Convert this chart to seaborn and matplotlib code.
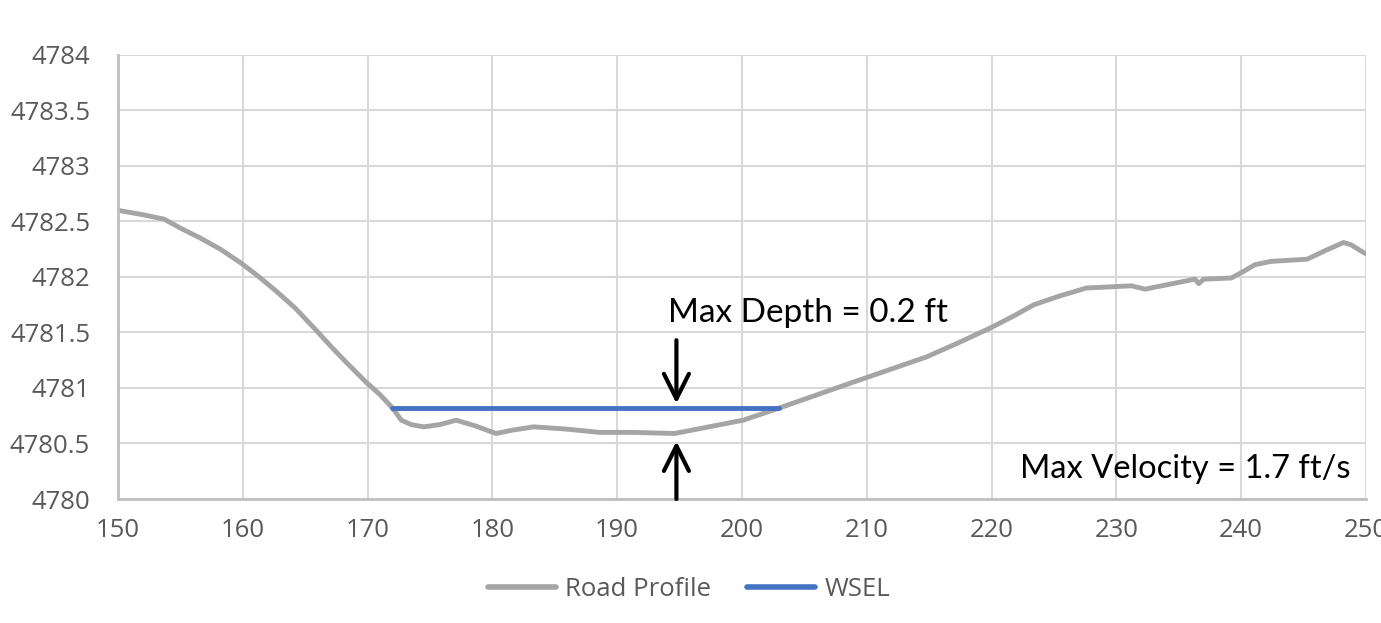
import matplotlib
matplotlib.use("Agg")
import matplotlib.pyplot as plt
import pandas as pd
import seaborn as sns

# road profile
road_x = [150, 152, 153.7, 155, 156.6, 158.2, 159.8, 161.2, 162.6, 164.2,
          165.8, 167.1, 168.3, 169.9, 171.0, 172.0, 172.7, 173.5, 174.5, 175.8,
          177.1, 178.6, 180.3, 181.6, 183.3, 185.9, 188.6, 191.3, 194.6, 196.9,
          200.1, 203.0, 205.8, 208.6, 211.7, 214.8, 217.4, 219.9, 221.8, 223.4,
          225.5, 227.6, 231.2, 232.3, 236.3, 236.6, 237.0, 239.2, 240.2, 241.1,
          242.4, 245.3, 246.8, 248.2, 248.8, 249.8, 250]
road_y = [4782.60, 4782.56, 4782.52, 4782.44, 4782.35, 4782.25, 4782.13, 4782.01, 4781.88, 4781.72,
          4781.53, 4781.37, 4781.23, 4781.05, 4780.94, 4780.82, 4780.71, 4780.67, 4780.65, 4780.67,
          4780.71, 4780.66, 4780.59, 4780.62, 4780.65, 4780.63, 4780.60, 4780.60, 4780.59, 4780.64,
          4780.71, 4780.82, 4780.93, 4781.04, 4781.16, 4781.28, 4781.41, 4781.54, 4781.65, 4781.75,
          4781.83, 4781.90, 4781.92, 4781.89, 4781.98, 4781.94, 4781.98, 4781.99, 4782.05, 4782.11,
          4782.14, 4782.16, 4782.24, 4782.31, 4782.29, 4782.22, 4782.21]

wsel_x = [172.0, 203.0]
wsel_y = [4780.82, 4780.82]

series_names = ["Road Profile", "WSEL"]
colors = ["#a5a5a5", "#4472c4"]

depth_label = "Max Depth = 0.2 ft"
velocity_label = "Max Velocity = 1.7 ft/s"
arrow_x = 194.75

df = pd.concat([
    pd.DataFrame({"station": road_x, "elev": road_y, "series": series_names[0]}),
    pd.DataFrame({"station": wsel_x, "elev": wsel_y, "series": series_names[1]}),
])

sns.set_theme(style="whitegrid")
plt.rcParams["font.family"] = ["Open Sans", "DejaVu Sans"]

fig = plt.figure(figsize=(13.81, 6.23), dpi=100)
ax = fig.add_axes([0.0854, 0.199, 0.9037, 0.713])

sns.lineplot(data=df, x="station", y="elev", hue="series", palette=colors,
             estimator=None, linewidth=3.5, ax=ax)
for line in ax.get_lines():
    line.set_solid_joinstyle("round")
    line.set_solid_capstyle("round")

ax.set_xlim(150, 250)
ax.set_ylim(4780, 4784)
ax.set_xticks(range(150, 251, 10))
ax.set_yticks([4780 + 0.5 * i for i in range(9)])
ax.set_yticklabels([f"{4780 + 0.5 * i:g}" for i in range(9)])
ax.set_xlabel("")
ax.set_ylabel("")
ax.grid(True, color="#d9d9d9", linewidth=1.5)
for side in ["top", "right"]:
    ax.spines[side].set_visible(False)
for side in ["left", "bottom"]:
    ax.spines[side].set_color("#bfbfbf")
    ax.spines[side].set_linewidth(2)
ax.tick_params(axis="y", length=0, pad=20, labelsize=18.5, labelcolor="#595959")
ax.tick_params(axis="x", length=0, pad=14, labelsize=18.5, labelcolor="#595959")

# annotations
ax.text(194.1, 4781.59, depth_label, ha="left", va="baseline",
        fontsize=24, family=["Lato", "DejaVu Sans"], color="black")
ax.text(248.8, 4780.19, velocity_label, ha="right", va="baseline",
        fontsize=23.5, family=["Lato", "DejaVu Sans"], color="black")
arrow_style = dict(arrowstyle="->,head_length=0.6,head_width=0.3",
                   lw=3, color="black", mutation_scale=30, shrinkA=0, shrinkB=0)
ax.annotate("", xy=(arrow_x, 4780.86), xytext=(arrow_x, 4781.43), arrowprops=arrow_style)
ax.annotate("", xy=(arrow_x, 4780.52), xytext=(arrow_x, 4780.0), arrowprops=arrow_style)

handles, labels = ax.get_legend_handles_labels()
ax.get_legend().remove()
leg = fig.legend(handles, labels, loc="center", bbox_to_anchor=(0.499, 0.053), ncol=2,
                 frameon=False, fontsize=18.5, labelcolor="#595959", handlelength=2.65,
                 columnspacing=1.4, handletextpad=0.35)
for h in leg.get_lines():
    h.set_linewidth(4)

fig.savefig("out.png", dpi=100)
